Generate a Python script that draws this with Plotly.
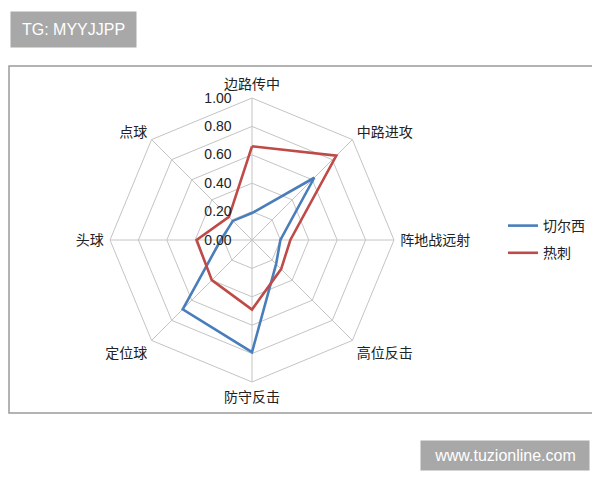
import plotly.graph_objects as go

categories = ["边路传中", "中路进攻", "阵地战远射", "高位反击", "防守反击", "定位球", "头球", "点球"]
chelsea = [0.19, 0.62, 0.20, 0.24, 0.79, 0.69, 0.22, 0.19]
spurs = [0.66, 0.84, 0.27, 0.29, 0.49, 0.40, 0.39, 0.23]
series_names = ["切尔西", "热刺"]
radial_ticks = [0.0, 0.2, 0.4, 0.6, 0.8, 1.0]
radial_ticklabels = ["0.00", "0.20", "0.40", "0.60", "0.80", "1.00"]

colors = ["#4A7EBB", "#BE4B48"]
font_family = "Noto Sans CJK SC, Noto Sans, sans-serif"

fig = go.Figure()
for name, vals, col in zip(series_names, [chelsea, spurs], colors):
    fig.add_trace(go.Scatterpolar(
        r=vals + vals[:1],
        theta=categories + categories[:1],
        mode="lines",
        name=name,
        legendgroup=name,
        line=dict(color=col, width=2.6),
    ))

# page body has an 8px margin: work in reference pixels, shift by 8
OFF = 8
W, H = 600 - OFF, 480 - OFF
def px(x):
    return (x - OFF) / W
def py(y):
    return 1 - (y - OFF) / H

cx, cy, R = 252, 240, 142
fig.update_layout(
    width=W, height=H,
    margin=dict(l=0, r=0, t=0, b=0),
    paper_bgcolor="white",
    plot_bgcolor="white",
    font=dict(family=font_family, size=14, color="#222"),
    polar=dict(
        domain=dict(x=[px(cx - R), px(cx + R)], y=[py(cy + R), py(cy - R)]),
        gridshape="linear",
        bgcolor="white",
        radialaxis=dict(
            range=[0, 1],
            tickvals=radial_ticks,
            ticktext=radial_ticklabels,
            angle=90,
            tickangle=90,
            side="counterclockwise",
            showline=False,
            ticks="outside",
            ticklen=15,
            tickcolor="rgba(0,0,0,0)",
            gridcolor="#C4C4C4",
            gridwidth=1,
            tickfont=dict(family="Liberation Sans, Arial", size=14, color="#222"),
        ),
        angularaxis=dict(
            direction="clockwise",
            rotation=90,
            showline=True,
            linecolor="#C4C4C4",
            gridcolor="#C4C4C4",
            ticks="outside",
            ticklen=3,
            tickcolor="rgba(0,0,0,0)",
            tickfont=dict(size=14, color="#222"),
        ),
    ),
    legend=dict(
        x=px(503), y=py(210), xanchor="left", yanchor="top",
        font=dict(size=14, color="#222"),
        bgcolor="rgba(0,0,0,0)",
        tracegroupgap=6,
    ),
    showlegend=True,
    shapes=[dict(
        type="rect", xref="paper", yref="paper",
        x0=px(9), x1=px(599), y0=py(413), y1=py(66),
        line=dict(color="#9A9A9A", width=1.5),
    )],
    annotations=[
        dict(text="TG: MYYJJPP", xref="paper", yref="paper",
             x=px(10), y=py(11), xanchor="left", yanchor="top",
             showarrow=False, bgcolor="#A8A8A8", borderpad=6,
             width=113, height=23,
             font=dict(family="Liberation Sans, Arial", size=16, color="white")),
        dict(text="www.tuzionline.com", xref="paper", yref="paper",
             x=px(590), y=py(440), xanchor="right", yanchor="top",
             showarrow=False, bgcolor="#A8A8A8", borderpad=5,
             width=158, height=19,
             font=dict(family="Liberation Sans, Arial", size=16, color="white")),
    ],
)

fig.write_html("out.html")
